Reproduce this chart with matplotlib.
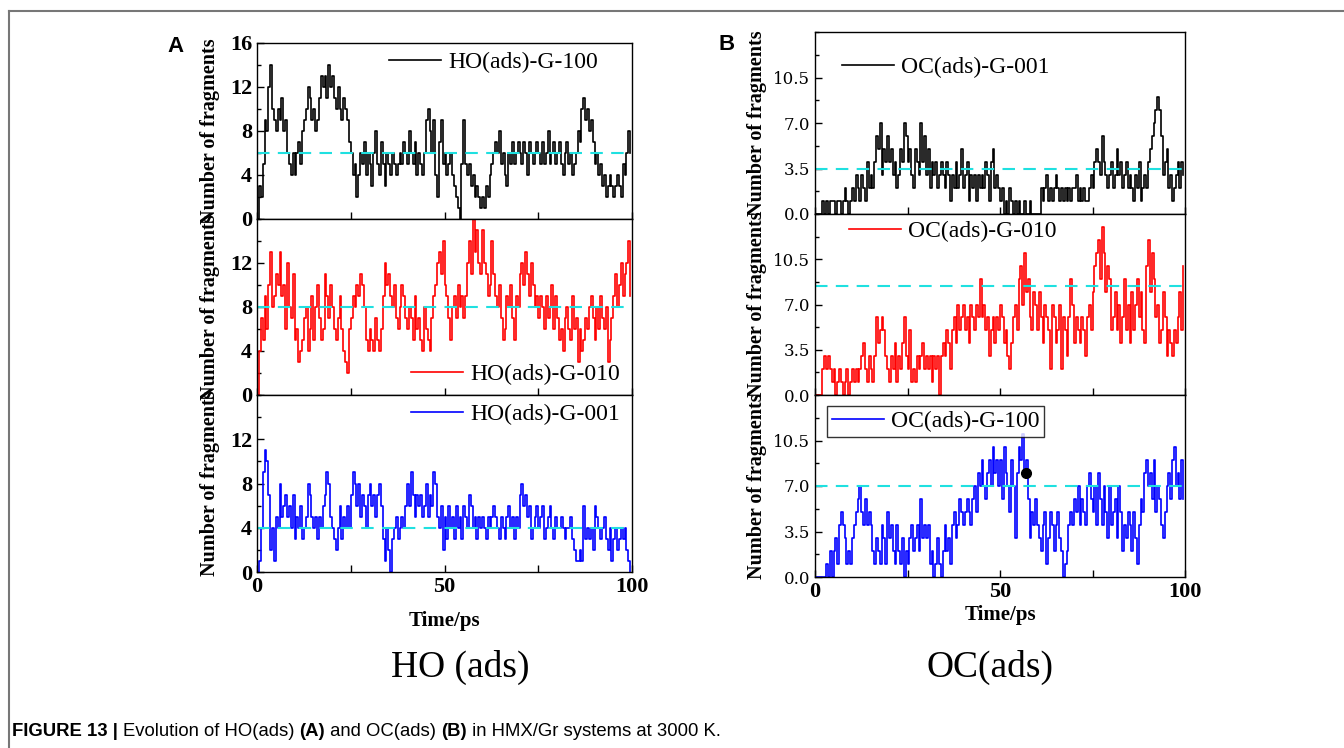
import numpy as np
import matplotlib
matplotlib.use("Agg")
import matplotlib.pyplot as plt
from matplotlib.lines import Line2D
from matplotlib.ticker import MultipleLocator, FixedLocator, FormatStrFormatter

# number of adsorbed fragments, sampled every 0.5 ps (rows = 5 ps)
ho_g100 = [0, 3, 2, 5, 9, 8, 12, 14, 10, 9,
           8, 10, 9, 11, 8, 9, 6, 5, 4, 6,
           4, 6, 7, 5, 8, 9, 10, 12, 11, 9,
           10, 8, 9, 11, 13, 12, 13, 11, 14, 12,
           13, 11, 10, 12, 10, 9, 11, 10, 9, 7,
           6, 4, 5, 2, 4, 6, 5, 7, 4, 6,
           5, 3, 6, 8, 5, 4, 7, 5, 3, 6,
           5, 4, 6, 5, 4, 5, 6, 5, 7, 6,
           5, 8, 6, 5, 7, 4, 6, 5, 4, 6,
           9, 10, 8, 6, 9, 4, 2, 7, 9, 5,
           6, 4, 5, 6, 4, 3, 2, 1, 0, 5,
           9, 5, 4, 5, 3, 4, 2, 3, 2, 1,
           2, 1, 3, 2, 4, 5, 6, 7, 6, 8,
           5, 6, 4, 3, 6, 5, 7, 5, 6, 7,
           6, 5, 7, 6, 4, 7, 6, 5, 6, 7,
           6, 5, 7, 5, 6, 8, 5, 6, 7, 5,
           6, 7, 5, 4, 6, 7, 5, 6, 4, 5,
           6, 8, 7, 10, 11, 9, 10, 8, 9, 7,
           5, 6, 4, 5, 3, 4, 2, 3, 4, 3,
           2, 3, 4, 3, 2, 5, 4, 6, 8, 6]

ho_g010 = [0, 4, 7, 5, 9, 6, 10, 13, 8, 9,
           11, 10, 13, 9, 10, 6, 12, 8, 7, 11,
           5, 6, 3, 4, 5, 7, 8, 4, 6, 9,
           5, 8, 10, 7, 5, 6, 11, 9, 7, 10,
           8, 6, 5, 7, 9, 6, 4, 3, 2, 6,
           7, 9, 8, 10, 9, 11, 10, 8, 5, 4,
           6, 5, 4, 7, 5, 4, 6, 9, 12, 10,
           11, 9, 8, 10, 7, 6, 8, 10, 9, 7,
           6, 8, 7, 5, 9, 6, 7, 5, 4, 8,
           6, 5, 4, 7, 9, 10, 12, 13, 11, 14,
           10, 9, 7, 5, 8, 9, 7, 10, 8, 9,
           7, 9, 12, 14, 11, 16, 13, 15, 12, 11,
           15, 12, 11, 9, 10, 14, 11, 9, 8, 10,
           7, 5, 6, 9, 8, 10, 7, 5, 9, 8,
           11, 12, 10, 13, 11, 9, 12, 10, 8, 9,
           7, 9, 8, 6, 9, 7, 8, 10, 6, 9,
           7, 5, 6, 4, 7, 8, 6, 5, 9, 6,
           7, 3, 6, 4, 5, 7, 6, 8, 9, 7,
           5, 8, 6, 9, 7, 6, 8, 3, 5, 7,
           9, 11, 8, 10, 12, 9, 11, 12, 14, 9]

ho_g001 = [0, 1, 4, 9, 11, 10, 7, 2, 4, 1,
           5, 4, 8, 5, 6, 7, 5, 6, 4, 7,
           3, 5, 4, 6, 3, 4, 5, 8, 7, 5,
           4, 5, 3, 5, 4, 6, 7, 9, 8, 5,
           4, 3, 2, 4, 6, 3, 5, 4, 6, 4,
           7, 9, 8, 6, 8, 5, 7, 6, 4, 7,
           8, 6, 7, 5, 7, 8, 6, 3, 1, 4,
           2, 0, 3, 4, 5, 3, 4, 5, 4, 6,
           8, 6, 9, 7, 5, 7, 6, 7, 5, 6,
           8, 5, 7, 6, 9, 8, 5, 4, 6, 2,
           5, 3, 6, 4, 5, 3, 6, 4, 5, 3,
           6, 5, 4, 7, 6, 4, 5, 3, 5, 4,
           5, 4, 3, 5, 4, 5, 6, 5, 4, 3,
           5, 4, 3, 5, 6, 4, 5, 3, 5, 4,
           7, 8, 6, 7, 5, 6, 3, 4, 5, 6,
           4, 5, 6, 3, 4, 5, 6, 4, 3, 5,
           4, 4, 5, 4, 3, 4, 4, 5, 3, 2,
           1, 1, 2, 1, 6, 3, 4, 3, 4, 2,
           6, 5, 4, 3, 4, 5, 3, 2, 4, 1,
           3, 4, 2, 3, 4, 3, 4, 2, 1, 0]

oc_g001 = [0, 0, 0, 0, 1, 0, 1, 0, 1, 1,
           1, 0, 1, 1, 0, 1, 2, 1, 0, 1,
           2, 1, 3, 2, 1, 3, 2, 1, 4, 2,
           3, 2, 4, 6, 5, 7, 3, 5, 4, 6,
           4, 5, 3, 4, 2, 3, 5, 4, 7, 6,
           4, 5, 3, 2, 5, 4, 3, 7, 4, 6,
           3, 5, 2, 4, 3, 4, 2, 3, 4, 3,
           2, 4, 3, 1, 3, 2, 4, 2, 3, 5,
           2, 3, 4, 1, 3, 2, 3, 1, 3, 2,
           3, 2, 4, 3, 1, 4, 5, 2, 3, 2,
           1, 2, 0, 1, 0, 2, 1, 0, 1, 0,
           1, 0, 0, 1, 0, 0, 1, 0, 0, 0,
           0, 0, 2, 1, 2, 3, 1, 2, 1, 2,
           3, 2, 1, 2, 1, 2, 1, 2, 1, 2,
           2, 3, 1, 2, 1, 2, 1, 1, 2, 3,
           2, 4, 5, 4, 3, 6, 4, 3, 2, 3,
           4, 2, 3, 5, 3, 4, 2, 3, 4, 2,
           3, 2, 1, 3, 2, 4, 1, 2, 3, 2,
           4, 5, 6, 7, 8, 9, 8, 6, 3, 4,
           5, 2, 3, 1, 2, 3, 4, 2, 4, 3]

oc_g010 = [0, 0, 0, 0, 2, 3, 2, 3, 2, 1,
           2, 0, 1, 2, 1, 0, 1, 2, 0, 1,
           2, 1, 2, 1, 2, 3, 4, 2, 1, 3,
           2, 1, 3, 6, 4, 5, 6, 5, 3, 2,
           1, 3, 2, 4, 1, 3, 2, 4, 6, 3,
           2, 5, 1, 2, 1, 3, 2, 3, 4, 2,
           3, 2, 3, 1, 3, 2, 3, 0, 3, 4,
           3, 5, 4, 2, 5, 6, 4, 7, 5, 6,
           7, 5, 6, 4, 7, 6, 5, 7, 6, 9,
           6, 7, 5, 6, 3, 5, 6, 4, 6, 5,
           7, 6, 4, 5, 3, 2, 4, 6, 7, 5,
           9, 10, 7, 11, 8, 9, 6, 5, 8, 7,
           5, 8, 6, 4, 7, 6, 5, 2, 7, 6,
           4, 5, 7, 2, 6, 5, 3, 6, 9, 7,
           4, 6, 5, 4, 6, 5, 3, 6, 7, 5,
           8, 10, 11, 12, 9, 13, 11, 8, 10, 9,
           5, 6, 8, 5, 7, 4, 6, 9, 5, 7,
           4, 8, 5, 7, 9, 6, 8, 5, 4, 10,
           12, 8, 11, 9, 6, 7, 4, 5, 8, 6,
           3, 5, 4, 3, 5, 4, 6, 8, 5, 10]

oc_g100 = [0, 0, 0, 0, 0, 0, 1, 0, 2, 0,
           2, 3, 1, 4, 5, 4, 3, 1, 2, 1,
           3, 4, 5, 6, 7, 5, 4, 6, 4, 5,
           4, 2, 1, 3, 2, 1, 4, 3, 1, 5,
           3, 4, 2, 1, 4, 2, 1, 3, 0, 2,
           1, 3, 4, 2, 3, 4, 2, 6, 3, 4,
           3, 4, 1, 2, 0, 1, 3, 1, 0, 2,
           4, 2, 3, 1, 4, 5, 3, 4, 6, 5,
           4, 5, 6, 5, 4, 6, 7, 5, 8, 7,
           9, 7, 6, 8, 9, 7, 10, 8, 9, 7,
           9, 6, 10, 8, 7, 5, 9, 7, 3, 8,
           10, 9, 11, 8, 9, 6, 3, 5, 4, 6,
           4, 3, 2, 4, 5, 1, 3, 5, 4, 2,
           4, 5, 3, 2, 0, 1, 2, 4, 5, 4,
           6, 5, 7, 4, 6, 5, 4, 7, 8, 6,
           5, 7, 4, 8, 6, 4, 7, 5, 3, 7,
           4, 5, 6, 3, 7, 5, 2, 4, 3, 5,
           4, 2, 5, 3, 1, 4, 6, 5, 8, 9,
           7, 8, 6, 9, 5, 7, 6, 4, 3, 5,
           7, 8, 6, 9, 10, 7, 8, 6, 9, 6]

ho_mean = [6, 8, 4]
oc_mean = [3.5, 8.4, 7.0]
marker_t, marker_n = 57, 8.0

time = np.arange(len(ho_g100)) * 0.5

serif = "Liberation Serif"
W, H = 1344, 748
fig = plt.figure(figsize=(W / 100, H / 100), dpi=100)


def box(l, t, r, b):
    return [l / W, 1 - b / H, (r - l) / W, (b - t) / H]


def panel(rect, y, color, mean, label, oc, majors, show_x, leg):
    ax = fig.add_axes(rect)
    ax.step(time, y, where="post", color=color, lw=1.2)
    ax.axhline(mean, color="#1fe0e0", lw=1.5, ls=(0, (6, 4)))
    ax.set_xlim(0, 100)
    ax.set_ylim(0, 14 if oc else 16)
    ax.xaxis.set_major_locator(FixedLocator([0, 50, 100]))
    ax.xaxis.set_minor_locator(FixedLocator([25, 75]))
    ax.yaxis.set_major_locator(FixedLocator(majors))
    ax.yaxis.set_minor_locator(MultipleLocator(1.75 if oc else 2))
    ax.tick_params(which="both", direction="in", top=False, right=False)
    ax.tick_params(which="major", length=5, width=1)
    ax.tick_params(axis="x", which="minor", length=5, width=1)
    ax.tick_params(axis="y", which="minor", length=3, width=1)
    for s in ax.spines.values():
        s.set_linewidth(1.0)
    if oc:
        ax.yaxis.set_major_formatter(FormatStrFormatter("%.1f"))
        for t in ax.get_yticklabels():
            t.set_fontfamily("DejaVu Serif")
            t.set_fontsize(12)
    else:
        for t in ax.get_yticklabels():
            t.set_fontfamily(serif)
            t.set_fontweight("bold")
            t.set_fontsize(16)
    ax.set_ylabel("Number of fragments", fontfamily=serif, fontweight="bold",
                  fontsize=14.5)
    if show_x:
        for t in ax.get_xticklabels():
            t.set_fontfamily(serif)
            t.set_fontweight("bold")
            t.set_fontsize(16)
        ax.set_xlabel("Time/ps", fontfamily=serif, fontweight="bold",
                      fontsize=15, labelpad=2 if oc else 10)
    else:
        ax.set_xticklabels([])
    loc, anchor, frame = leg
    lg = ax.legend([label], loc=loc, bbox_to_anchor=anchor, frameon=frame,
                   prop={"family": serif, "size": 17}, handlelength=2.2,
                   handletextpad=0.3, borderpad=0.2, borderaxespad=0.3,
                   fancybox=False)
    if frame:
        lg.get_frame().set_edgecolor("black")
        lg.get_frame().set_linewidth(1.0)
    return ax


a1 = panel(box(257, 43, 632, 219), ho_g100, "black", ho_mean[0], "HO(ads)-G-100", False,
           [0, 4, 8, 12, 16], False, ("upper right", (0.94, 1.02), False))
a2 = panel(box(257, 219, 632, 395), ho_g010, "red", ho_mean[1], "HO(ads)-G-010", False,
           [0, 4, 8, 12], False, ("lower right", (1.0, -0.01), False))
a3 = panel(box(257, 395, 632, 572), ho_g001, "blue", ho_mean[2], "HO(ads)-G-001", False,
           [0, 4, 8, 12], True, ("upper right", (1.0, 1.02), False))

b1 = panel(box(815, 32, 1185, 214), oc_g001, "black", oc_mean[0], "OC(ads)-G-001", True,
           [0, 3.5, 7, 10.5], False, ("upper left", (0.04, 0.93), False))
b2 = panel(box(815, 214, 1185, 395), oc_g010, "red", oc_mean[1], "OC(ads)-G-010", True,
           [0, 3.5, 7, 10.5], False, ("upper left", (0.06, 1.03), False))
b3 = panel(box(815, 395, 1185, 577), oc_g100, "blue", oc_mean[2], "OC(ads)-G-100", True,
           [0, 3.5, 7, 10.5], True, ("upper left", (0.013, 0.98), True))
b3.plot(marker_t, marker_n, "o", color="black", ms=7, zorder=5)

for ax in (a1, a2, a3):
    ax.yaxis.set_label_coords(-0.1, 0.5)
for ax in (b1, b2, b3):
    ax.yaxis.set_label_coords(-0.13, 0.5)

bg = fig.add_axes([0, 0, 1, 1], zorder=-1)
bg.set_xlim(0, W)
bg.set_ylim(H, 0)
bg.axis("off")

# frame of the figure page
fig.add_artist(Line2D([9 / W, 1], [1 - 10.5 / H, 1 - 10.5 / H], color="#777777", lw=1.5))
fig.add_artist(Line2D([9 / W, 9 / W], [0, 1 - 10.5 / H], color="#777777", lw=1.5))

fig.text(175 / W, 1 - 47 / H, "A", fontfamily="Liberation Sans", fontweight="bold",
         fontsize=16, ha="center", va="center")
fig.text(727 / W, 1 - 45 / H, "B", fontfamily="Liberation Sans", fontweight="bold",
         fontsize=16, ha="center", va="center")

fig.text(460 / W, 1 - 667 / H, "HO (ads)", fontfamily=serif, fontsize=27,
         ha="center", va="center")
fig.text(990 / W, 1 - 667 / H, "OC(ads)", fontfamily=serif, fontsize=27,
         ha="center", va="center")

caption = [("FIGURE 13 | ", "bold"), ("Evolution of HO(ads) ", "normal"), ("(A)", "bold"),
           (" and OC(ads) ", "normal"), ("(B)", "bold"),
           (" in HMX/Gr systems at 3000 K.", "normal")]
prev = None
for txt, wt in caption:
    if prev is None:
        prev = bg.text(12, 731, txt, fontfamily="Liberation Sans", fontweight=wt,
                       fontsize=13.3, va="center", ha="left")
    else:
        prev = bg.annotate(txt, xy=(1, 0), xycoords=prev, va="bottom", ha="left",
                           fontfamily="Liberation Sans", fontweight=wt, fontsize=13.3)

fig.savefig("out.png", dpi=100)
